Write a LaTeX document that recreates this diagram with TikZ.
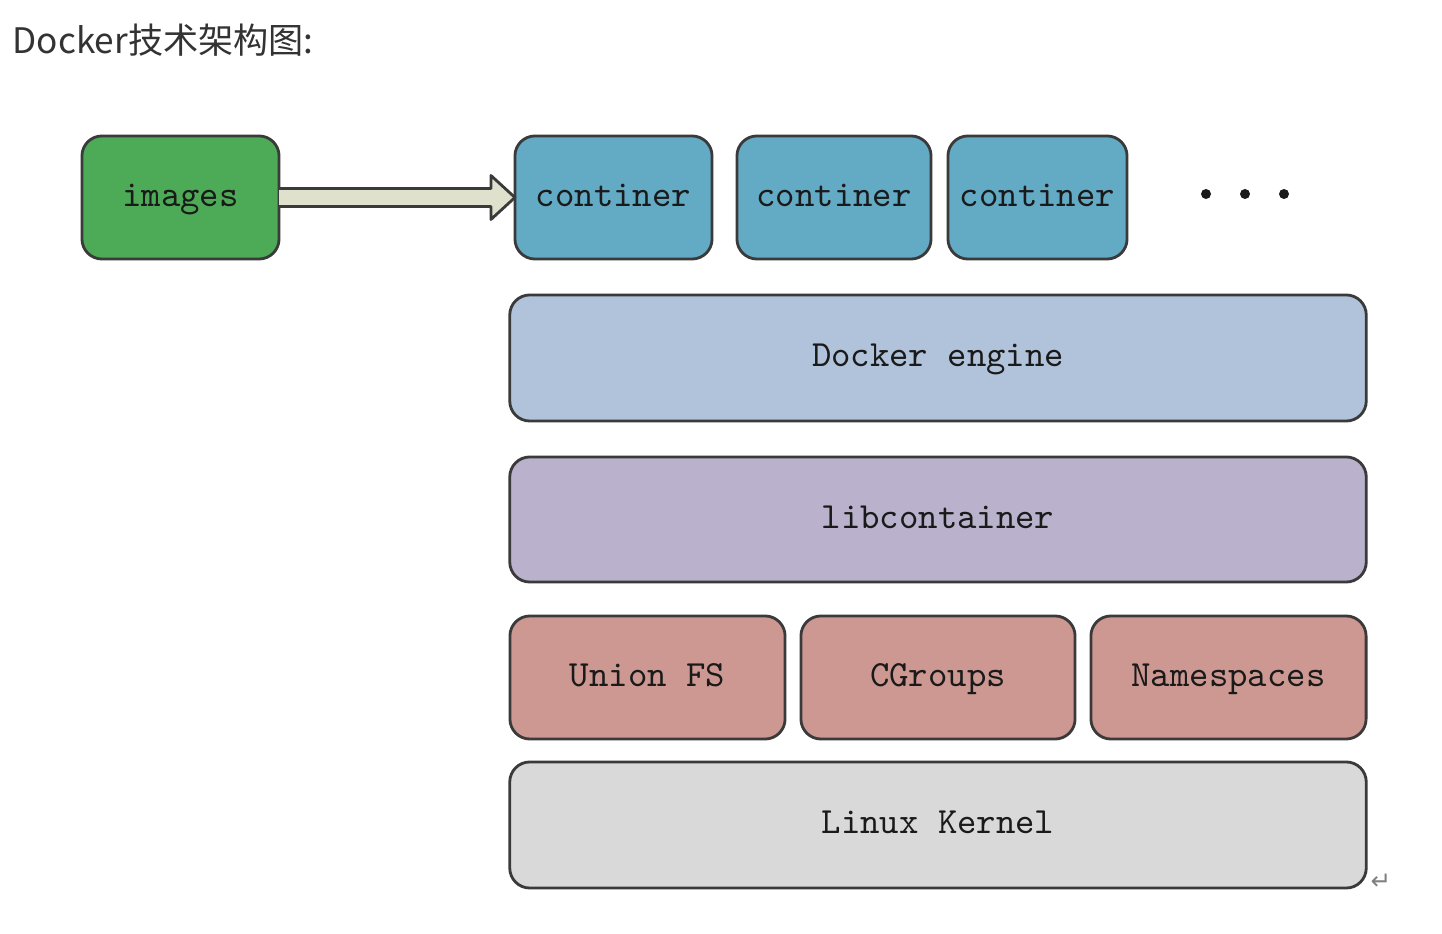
\documentclass[tikz,border=0pt]{standalone}
\usepackage{fontspec}
\newfontfamily\cjkfont{Noto Sans CJK SC}
\newfontfamily\symfont{DejaVu Sans}
\usepackage{tikz}
\usetikzlibrary{calc}
\definecolor{boxline}{HTML}{3A3A3A}
\definecolor{textdark}{HTML}{1A1A1A}
\definecolor{titlegray}{HTML}{333333}
\definecolor{imggreen}{HTML}{4DAA57}
\definecolor{contblue}{HTML}{63AAC5}
\definecolor{engblue}{HTML}{B1C3DA}
\definecolor{libpurple}{HTML}{BAB1CC}
\definecolor{fsred}{HTML}{CE9892}
\definecolor{kerngray}{HTML}{D9D9D9}
\definecolor{arrowfill}{HTML}{DFE1CD}
\tikzstyle{layer} = [rectangle, draw=boxline, line width=0.8pt, rounded corners=0.2cm, font=\fontsize{10.5}{12}\selectfont\ttfamily, text=textdark, text height=0.7em, text depth=0.2em, inner sep=0pt, outer sep=0pt]
\tikzstyle{blockarrow} = [draw=boxline, line width=0.8pt, fill=arrowfill, line join=round]

\begin{document}
\begin{tikzpicture}[x=0.01cm, y=-0.01cm]
        \useasboundingbox (0,0) rectangle (1442,934);
        % Title
        \node[anchor=west, inner sep=0pt, text=titlegray, font=\cjkfont\fontsize{10}{12}\selectfont] (title) at (12,40) {Docker技术架构图:};

        % Node positions
        \node[layer, fill=imggreen, minimum width=1.97cm, minimum height=1.23cm] (img) at (180.5,197.5) {images};
        \node[layer, fill=contblue, minimum width=1.97cm, minimum height=1.23cm] (c1) at (613.5,197.5) {continer};
        \node[layer, fill=contblue, minimum width=1.94cm, minimum height=1.23cm] (c2) at (834,197.5) {continer};
        \node[layer, fill=contblue, minimum width=1.79cm, minimum height=1.23cm] (c3) at (1037.5,197.5) {continer};
        \node[layer, fill=engblue, minimum width=8.56cm, minimum height=1.26cm] (engine) at (938,358) {Docker engine};
        \node[layer, fill=libpurple, minimum width=8.56cm, minimum height=1.25cm] (libc) at (938,519.5) {libcontainer};
        \node[layer, fill=fsred, minimum width=2.75cm, minimum height=1.23cm] (ufs) at (647.5,677.5) {Union FS};
        \node[layer, fill=fsred, minimum width=2.74cm, minimum height=1.23cm] (cg) at (938,677.5) {CGroups};
        \node[layer, fill=fsred, minimum width=2.75cm, minimum height=1.23cm] (ns) at (1228.5,677.5) {Namespaces};
        \node[layer, fill=kerngray, minimum width=8.56cm, minimum height=1.26cm] (kernel) at (938,825) {Linux Kernel};

        % images -> continer
        \draw[blockarrow] ($(img.east)+(0,-9)$) -- ($(c1.west)+(-24,-9)$) -- ($(c1.west)+(-24,-22)$) -- (c1.west) -- ($(c1.west)+(-24,22)$) -- ($(c1.west)+(-24,9)$) -- ($(img.east)+(0,9)$);

        % more containers
        \foreach \x in {1206,1245,1284}
          \fill[textdark] (\x,194) circle[radius=0.05cm];

        \node[text=gray, font=\symfont\fontsize{7}{8}\selectfont, inner sep=0pt] (ret) at (1381,882) {↵};
\end{tikzpicture}
\end{document}
